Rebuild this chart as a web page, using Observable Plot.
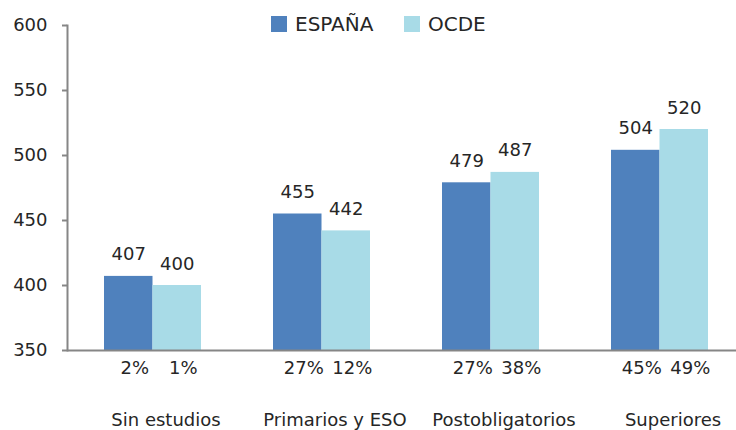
<!DOCTYPE html>
<html>
<head>
<meta charset="utf-8">
<script src="https://cdn.jsdelivr.net/npm/d3@7"></script>
<script src="https://cdn.jsdelivr.net/npm/@observablehq/plot@0.6"></script>
<style>
  html, body { margin: 0; padding: 0; background: #fff; overflow: hidden; }
  #wrap { position: relative; width: 736px; height: 430px; overflow: hidden; }
  #chart { width: 744px; }
  #chart svg { max-width: none !important; }
  #legend { position: absolute; top: 12px; left: 0; font-family: "DejaVu Sans", sans-serif; font-size: 20px; color: #262626; }
  .item { position: absolute; display: flex; align-items: center; white-space: nowrap; }
  .sw { width: 16px; height: 16px; margin-right: 8px; }
</style>
</head>
<body>
<div id="wrap">
  <div id="chart"></div>
  <div id="legend"></div>
</div>
<script>
const categories = ["Sin estudios", "Primarios y ESO", "Postobligatorios", "Superiores"];
const series = ["ESPAÑA", "OCDE"];
const espana = [407, 455, 479, 504];
const ocde = [400, 442, 487, 520];
const espanaPct = ["2%", "27%", "27%", "45%"];
const ocdePct = ["1%", "12%", "38%", "49%"];
const yTicks = [350, 400, 450, 500, 550, 600];
const colors = ["#4f81bd", "#a8dbe7"];

const rows = [];
categories.forEach((c, i) => {
  rows.push({cat: c, series: series[0], value: espana[i], pct: espanaPct[i]});
  rows.push({cat: c, series: series[1], value: ocde[i], pct: ocdePct[i]});
});
const esp = rows.filter(d => d.series === series[0]);
const oc = rows.filter(d => d.series === series[1]);
const half = 48.5;
const base = yTicks[0];

const plot = Plot.plot({
  width: 744,
  height: 430,
  marginLeft: 67,
  marginRight: 0,
  marginTop: 25,
  marginBottom: 80,
  style: {fontFamily: "DejaVu Sans, sans-serif", fontSize: "18px", color: "#262626", background: "transparent", maxWidth: "none"},
  x: {domain: categories, paddingInner: 0.427, paddingOuter: 0.2135, axis: null},
  y: {domain: [350, 600], axis: null},
  marks: [
    Plot.barY(esp, {x: "cat", y1: base, y2: "value", fill: colors[0], insetRight: half}),
    Plot.barY(oc, {x: "cat", y1: base, y2: "value", fill: colors[1], insetLeft: half}),
    Plot.text(esp, {x: "cat", y: "value", text: d => String(d.value), dx: -half / 2, dy: -16, lineAnchor: "bottom", fill: "#262626"}),
    Plot.text(oc, {x: "cat", y: "value", text: d => String(d.value), dx: half / 2, dy: -16, lineAnchor: "bottom", fill: "#262626"}),
    Plot.text(esp, {x: "cat", y: base, text: "pct", dx: -half / 2 + 6, dy: 23, lineAnchor: "bottom", fill: "#262626"}),
    Plot.text(oc, {x: "cat", y: base, text: "pct", dx: half / 2 + 6, dy: 23, lineAnchor: "bottom", fill: "#262626"}),
    Plot.axisX({tickSize: 0, tickPadding: 63, dx: 13, label: null, fill: "#262626"}),
    Plot.axisY({ticks: yTicks, tickSize: 5, tickPadding: 15, label: null, stroke: "#868686", strokeWidth: 2, fill: "#262626"}),
    Plot.ruleY([base], {stroke: "#868686", strokeWidth: 2}),
    Plot.frame({anchor: "left", stroke: "#868686", strokeWidth: 2})
  ]
});
document.getElementById("chart").appendChild(plot);

const legend = document.getElementById("legend");
const lefts = [271, 404];
series.forEach((s, i) => {
  const it = document.createElement("div");
  it.className = "item";
  it.style.left = lefts[i] + "px";
  const sw = document.createElement("div");
  sw.className = "sw";
  sw.style.background = colors[i];
  it.appendChild(sw);
  const t = document.createElement("span");
  t.textContent = s;
  it.appendChild(t);
  legend.appendChild(it);
});
</script>
</body>
</html>
